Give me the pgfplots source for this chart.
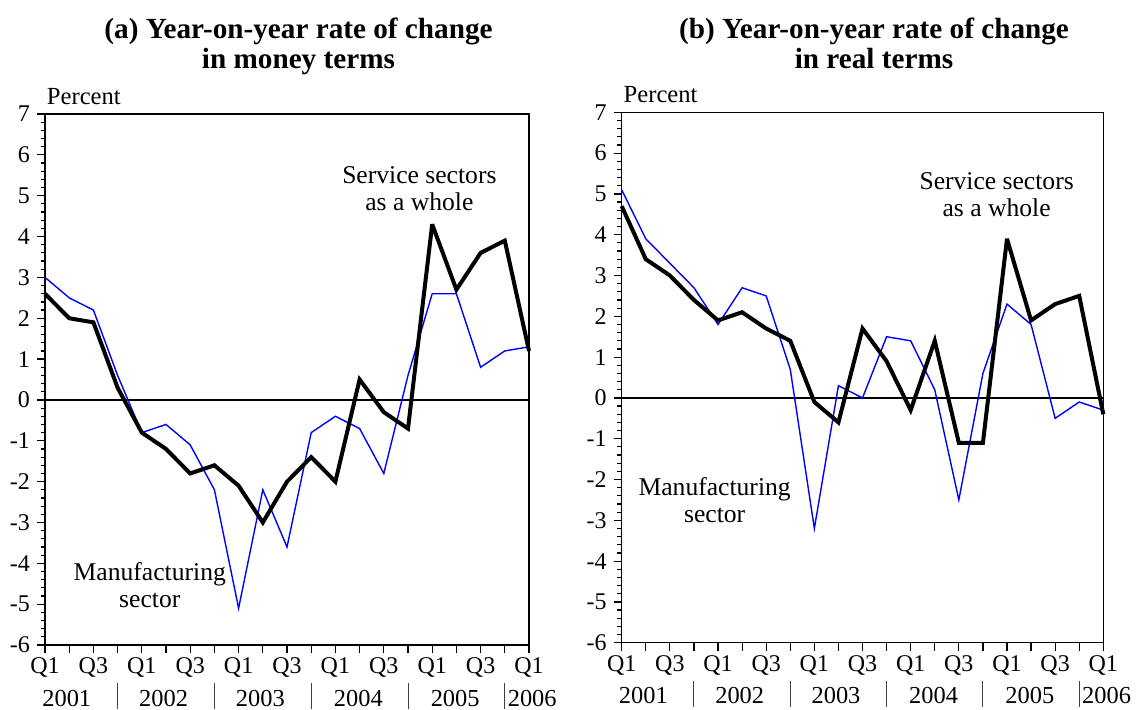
\documentclass[border=0pt]{standalone}
\usepackage{fontspec}
\setmainfont{Liberation Serif}
\usepackage{pgfplots}
\pgfplotsset{compat=1.18}
\definecolor{mblue}{RGB}{0,0,255}
\begin{document}
\begin{tikzpicture}
\useasboundingbox (-22.5pt,-32pt) rectangle (549pt,322.5pt);
\pgfplotsset{
 panel/.style={
  scale only axis, width=242pt, height=265.5pt,
  xmin=0, xmax=20, ymin=-6, ymax=7,
  xtick={0,...,20},
  xticklabels={Q1,,Q3,,Q1,,Q3,,Q1,,Q3,,Q1,,Q3,,Q1,,Q3,,Q1},
  ytick={-6,...,7}, minor y tick num=4,
  tick pos=left, tick align=outside,
  major tick length=4pt, minor tick length=2.2pt,
  every tick/.style={black, line width=0.6pt},
  axis line style={line width=0.6pt},
  ticklabel style={font=\fontsize{12}{13}\selectfont},
  xticklabel style={yshift=1pt},
  /pgf/number format/assume math mode=true,
  clip=false,
  anchor=south west,
 },
 svc/.style={black, line width=2pt, line join=miter, miter limit=4},
 mfg/.style={mblue, line width=0.7pt},
}
\tikzset{
 lbl/.style={font=\fontsize{12.8}{13.5}\selectfont, align=center},
 ttl/.style={font=\fontsize{14.6}{16}\selectfont\bfseries, anchor=base},
 yr/.style={font=\fontsize{12.2}{13}\selectfont, anchor=base},
 pct/.style={font=\fontsize{12.3}{13}\selectfont, anchor=base west, inner sep=0pt},
 sep/.style={black!75, line width=0.5pt},
}
% ---------------- Panel (a) ----------------
\begin{axis}[panel, at={(0pt,0pt)}]
\addplot[black, line width=0.6pt] coordinates {(0,0) (20,0)};
\addplot[mfg] coordinates {
(0,3.0) (1,2.5) (2,2.2) (3,0.6) (4,-0.8) (5,-0.6) (6,-1.1) (7,-2.2) (8,-5.1) (9,-2.2)
(10,-3.6) (11,-0.8) (12,-0.4) (13,-0.7) (14,-1.8) (15,0.6) (16,2.6) (17,2.6) (18,0.8) (19,1.2) (20,1.3)};
\addplot[svc] coordinates {
(0,2.6) (1,2.0) (2,1.9) (3,0.3) (4,-0.8) (5,-1.2) (6,-1.8) (7,-1.6) (8,-2.1) (9,-3.0)
(10,-2.0) (11,-1.4) (12,-2.0) (13,0.5) (14,-0.3) (15,-0.7) (16,4.3) (17,2.7) (18,3.6) (19,3.9) (20,1.2)};
\node[lbl] at (axis cs:15.47,5.17) {Service sectors\\as a whole};
\node[lbl] at (axis cs:4.33,-4.53) {Manufacturing\\sector};
\node[pct] at ([xshift=0.8pt,yshift=5pt]rel axis cs:0,1) {Percent};
\node[ttl] at ([xshift=5.75pt,yshift=38pt]rel axis cs:0.5,1) {(a) Year-on-year rate of change};
\node[ttl] at ([xshift=5.75pt,yshift=23pt]rel axis cs:0.5,1) {in money terms};
\foreach \x/\y in {0.9/2001,4.9/2002,8.9/2003,12.95/2004,16.95/2005} {
  \edef\tmp{\noexpand\node[yr] at ([yshift=-30.5pt]axis cs:\x,-6) {\y};}\tmp
}
\node[yr, anchor=base west, inner sep=0pt] at ([xshift=1.3pt,yshift=-30.5pt]axis cs:19,-6) {2006};
\foreach \x in {3,7,11,15,19} {
  \edef\tmp{\noexpand\draw[sep] ([yshift=-19pt]axis cs:\x,-6) -- ([yshift=-32pt]axis cs:\x,-6);}\tmp
}
\end{axis}
% ---------------- Panel (b) ----------------
\begin{axis}[panel, at={(288.35pt,1.15pt)}, width=240.8pt, height=265.2pt]
\addplot[black, line width=0.6pt] coordinates {(0,0) (20,0)};
\addplot[mfg] coordinates {
(0,5.1) (1,3.9) (2,3.3) (3,2.7) (4,1.8) (5,2.7) (6,2.5) (7,0.7) (8,-3.2) (9,0.3)
(10,0.0) (11,1.5) (12,1.4) (13,0.2) (14,-2.5) (15,0.6) (16,2.3) (17,1.8) (18,-0.5) (19,-0.1) (20,-0.3)};
\addplot[svc] coordinates {
(0,4.7) (1,3.4) (2,3.0) (3,2.4) (4,1.9) (5,2.1) (6,1.7) (7,1.4) (8,-0.1) (9,-0.6)
(10,1.7) (11,0.9) (12,-0.3) (13,1.4) (14,-1.1) (15,-1.1) (16,3.9) (17,1.9) (18,2.3) (19,2.5) (20,-0.4)};
\node[lbl] at (axis cs:15.57,4.97) {Service sectors\\as a whole};
\node[lbl] at (axis cs:3.86,-2.51) {Manufacturing\\sector};
\node[pct] at ([xshift=0.8pt,yshift=5pt]rel axis cs:0,1) {Percent};
\node[ttl] at ([xshift=5.75pt,yshift=37pt]rel axis cs:0.5,1) {(b) Year-on-year rate of change};
\node[ttl] at ([xshift=5.75pt,yshift=22pt]rel axis cs:0.5,1) {in real terms};
\foreach \x/\y in {0.9/2001,4.9/2002,8.9/2003,12.95/2004,16.95/2005} {
  \edef\tmp{\noexpand\node[yr] at ([yshift=-30.5pt]axis cs:\x,-6) {\y};}\tmp
}
\node[yr, anchor=base west, inner sep=0pt] at ([xshift=1.3pt,yshift=-30.5pt]axis cs:19,-6) {2006};
\foreach \x in {3,7,11,15,19} {
  \edef\tmp{\noexpand\draw[sep] ([yshift=-19pt]axis cs:\x,-6) -- ([yshift=-32pt]axis cs:\x,-6);}\tmp
}
\end{axis}
\end{tikzpicture}
\end{document}
